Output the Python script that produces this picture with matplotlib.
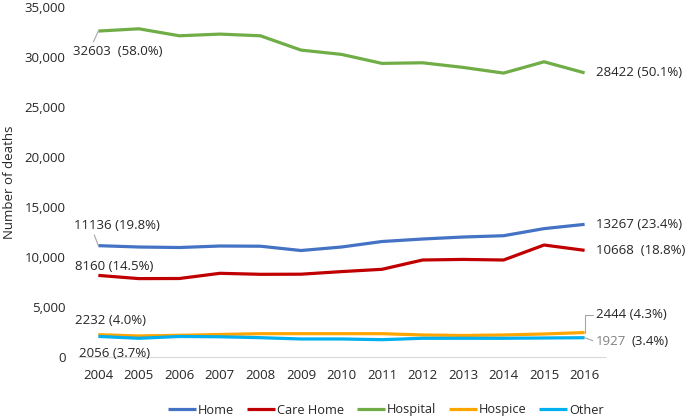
import matplotlib
matplotlib.use('Agg')
import matplotlib.pyplot as plt
from matplotlib.ticker import FuncFormatter

# data
years = list(range(2004, 2017))
home = [11136, 11000, 10950, 11100, 11080, 10650, 11000, 11550, 11800, 12000, 12130, 12840, 13267]
care_home = [8160, 7840, 7850, 8370, 8270, 8280, 8540, 8770, 9700, 9760, 9700, 11200, 10668]
hospital = [32603, 32830, 32130, 32300, 32130, 30700, 30270, 29370, 29430, 28970, 28400, 29530, 28422]
hospice = [2232, 2100, 2170, 2250, 2330, 2330, 2330, 2330, 2200, 2150, 2200, 2300, 2444]
other = [2056, 1870, 2050, 2020, 1930, 1800, 1800, 1730, 1870, 1870, 1870, 1900, 1927]

series_names = ['Home', 'Care Home', 'Hospital', 'Hospice', 'Other']
series_vals = [home, care_home, hospital, hospice, other]
colors = ['#4472C4', '#C00000', '#70AD47', '#FFA500', '#00B0F0']

first_labels = ['11136 (19.8%)', '8160 (14.5%)', '32603  (58.0%)', '2232 (4.0%)', '2056 (3.7%)']
last_labels = ['13267 (23.4%)', '10668  (18.8%)', '28422 (50.1%)', '2444 (4.3%)', '1927']

plt.rcParams['font.family'] = ['Open Sans', 'DejaVu Sans']
plt.rcParams['font.size'] = 9
txt_col = '#262626'

fig = plt.figure(figsize=(6.85, 4.18), dpi=100)
ax = fig.add_axes([0.114, 0.146, 0.769, 0.837])

for name, vals, c in zip(series_names, series_vals, colors):
    ax.plot(years, vals, color=c, lw=2.3, label=name, solid_capstyle='butt')

ax.set_xlim(2003.5, 2016.5)
ax.set_ylim(0, 35000)
ax.set_yticks(range(0, 35001, 5000))
ax.set_xticks(years)
ax.yaxis.set_major_formatter(FuncFormatter(lambda v, p: f'{int(v):,}'))
ax.tick_params(length=0, colors=txt_col, labelsize=9.5)
ax.tick_params(axis='y', pad=9)
ax.tick_params(axis='x', pad=9)
for s in ['top', 'right', 'left']:
    ax.spines[s].set_visible(False)
ax.spines['bottom'].set_color('#D9D9D9')
ax.set_ylabel('Number of deaths', color=txt_col, fontsize=9.5, labelpad=6)

lead = dict(arrowstyle='-', color='#A6A6A6', lw=0.8, shrinkA=0, shrinkB=0)

# labels at the first year (offsets in pixels)
first_off = [(-24, 20), (-23, 9), (-25, -20), (-23, 14), (-19, -17)]
first_lead = [(0.22, 0), None, (0.21, 1), None, None]
for vals, lab, off, rp in zip(series_vals, first_labels, first_off, first_lead):
    kw = {}
    if rp is not None:
        kw['arrowprops'] = dict(lead, relpos=rp)
    ax.annotate(lab, xy=(years[0], vals[0]), xytext=off, textcoords='offset pixels',
                ha='left', va='center', color=txt_col, fontsize=9.5, **kw)

# labels at the last year
last_off = [(11, 0), (11, 0), (11, 0), (11, 18), (11, -4)]
for i, (vals, lab, off) in enumerate(zip(series_vals, last_labels, last_off)):
    kw = {}
    col = txt_col
    if i == 3:
        kw['arrowprops'] = dict(lead, relpos=(0, 0.5),
                                connectionstyle='angle,angleA=0,angleB=90,rad=0')
    if i == 4:
        kw['arrowprops'] = dict(lead, relpos=(0, 0.5))
        col = '#808080'
    ax.annotate(lab, xy=(years[-1], vals[-1]), xytext=off, textcoords='offset pixels',
                ha='left', va='center', color=col, fontsize=9.5, **kw)
ax.annotate('(3.4%)', xy=(years[-1], other[-1]), xytext=(47, -4), textcoords='offset pixels',
            ha='left', va='center', color=txt_col, fontsize=9.5)

leg = fig.legend(loc='center', bbox_to_anchor=(386 / 685, 1 - 410 / 418), ncol=5,
                 frameon=False, handlelength=2.2, handletextpad=0.15, columnspacing=1.0,
                 fontsize=9.2)
for t in leg.get_texts():
    t.set_color(txt_col)

fig.savefig('out.png', dpi=100)
plt.close(fig)
